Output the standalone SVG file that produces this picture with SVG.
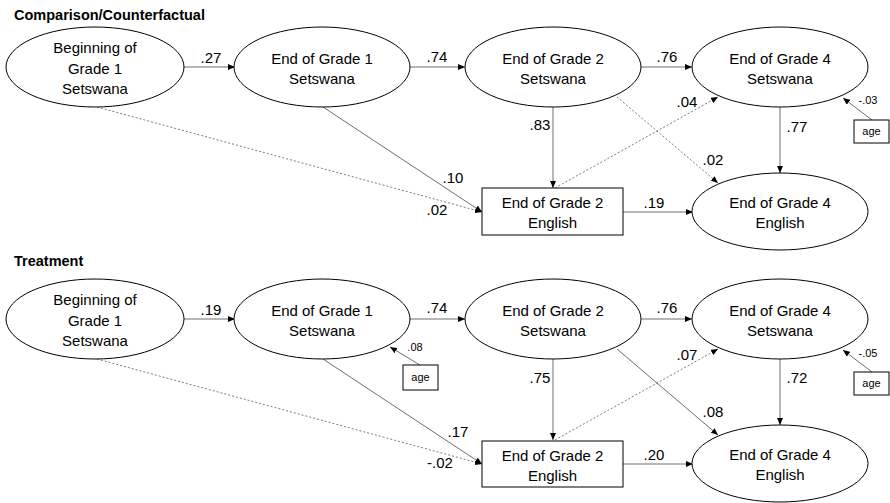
<svg xmlns="http://www.w3.org/2000/svg" width="890" height="503" viewBox="0 0 890 503">
<defs>
<marker id="ah" markerWidth="7" markerHeight="6" refX="7" refY="3" orient="auto" markerUnits="userSpaceOnUse">
<path d="M0,0 L7,3 L0,6 Z" fill="#000"/>
</marker>
<style>
.n{fill:#fff;stroke:#000;stroke-width:1}
.t{font-family:"Liberation Sans",Arial,sans-serif;font-size:15px;fill:#000;text-anchor:middle}
.s{font-family:"Liberation Sans",Arial,sans-serif;font-size:11px;fill:#000;text-anchor:middle}
.h{font-family:"Liberation Sans",Arial,sans-serif;font-size:14.5px;font-weight:bold;fill:#000}
.c{stroke:#6e6e6e;stroke-width:1;fill:none;marker-end:url(#ah)}
.d{stroke:#7a7a7a;stroke-width:1;fill:none;stroke-dasharray:2,2;marker-end:url(#ah)}
</style>
</defs>
<rect width="890" height="503" fill="#fff"/>
<text class="h" x="14" y="20">Comparison/Counterfactual</text>
<text class="h" x="14" y="266">Treatment</text>

<g id="connectors">
<line class="c" x1="184" y1="67" x2="235" y2="67"/>
<line class="c" x1="410" y1="67" x2="465" y2="67"/>
<line class="c" x1="641" y1="67" x2="692" y2="67"/>
<line class="c" x1="780" y1="107" x2="780" y2="173"/>
<line class="c" x1="553" y1="107" x2="553" y2="188"/>
<line class="c" x1="623" y1="212" x2="693" y2="212"/>
<line class="c" x1="323" y1="107" x2="482" y2="212"/>
<line class="d" x1="97" y1="107" x2="482" y2="212"/>
<line class="d" x1="555" y1="188" x2="718" y2="97"/>
<line class="d" x1="617" y1="97" x2="718" y2="183"/>
<line class="c" x1="872" y1="120" x2="843" y2="98"/>

<line class="c" x1="184" y1="319" x2="235" y2="319"/>
<line class="c" x1="410" y1="319" x2="465" y2="319"/>
<line class="c" x1="641" y1="319" x2="692" y2="319"/>
<line class="c" x1="780" y1="359" x2="780" y2="425"/>
<line class="c" x1="553" y1="359" x2="553" y2="440"/>
<line class="c" x1="623" y1="464" x2="693" y2="464"/>
<line class="c" x1="323" y1="359" x2="482" y2="464"/>
<line class="d" x1="97" y1="359" x2="482" y2="464"/>
<line class="d" x1="555" y1="440" x2="718" y2="349"/>
<line class="c" x1="617" y1="349" x2="718" y2="435"/>
<line class="c" x1="420" y1="365" x2="390" y2="347"/>
<line class="c" x1="872" y1="372" x2="843" y2="350"/>

<text class="t" x="211" y="63">.27</text>
<text class="t" x="437" y="62">.74</text>
<text class="t" x="667" y="62">.76</text>
<text class="t" x="540" y="130">.83</text>
<text class="t" x="453" y="183">.10</text>
<text class="t" x="437" y="215">.02</text>
<text class="t" x="687" y="107">.04</text>
<text class="t" x="713" y="165">.02</text>
<text class="t" x="797" y="132">.77</text>
<text class="t" x="654" y="208">.19</text>
<text class="s" x="868" y="104">-.03</text>

<text class="t" x="211" y="315">.19</text>
<text class="t" x="437" y="313">.74</text>
<text class="t" x="667" y="313">.76</text>
<text class="s" x="415" y="351">.08</text>
<text class="t" x="540" y="383">.75</text>
<text class="t" x="458" y="437">.17</text>
<text class="t" x="440" y="468">-.02</text>
<text class="t" x="687" y="360">.07</text>
<text class="s" x="868" y="357">-.05</text>
<text class="t" x="797" y="383">.72</text>
<text class="t" x="713" y="417">.08</text>
<text class="t" x="654" y="460">.20</text>
</g>

<g id="c_b1">
<ellipse class="n" cx="95" cy="67" rx="89" ry="40"/>
<text class="t" x="95" y="53">Beginning of</text>
<text class="t" x="95" y="74">Grade 1</text>
<text class="t" x="95" y="94">Setswana</text>
</g>
<g id="c_e1">
<ellipse class="n" cx="322" cy="67" rx="88" ry="40"/>
<text class="t" x="322" y="64">End of Grade 1</text>
<text class="t" x="322" y="84">Setswana</text>
</g>
<g id="c_e2">
<ellipse class="n" cx="553" cy="67" rx="88" ry="40"/>
<text class="t" x="553" y="64">End of Grade 2</text>
<text class="t" x="553" y="84">Setswana</text>
</g>
<g id="c_e4">
<ellipse class="n" cx="780" cy="67" rx="88" ry="40"/>
<text class="t" x="780" y="64">End of Grade 4</text>
<text class="t" x="780" y="84">Setswana</text>
</g>
<g id="c_e2eng">
<rect class="n" x="482" y="188" width="141" height="47"/>
<text class="t" x="552.5" y="208">End of Grade 2</text>
<text class="t" x="552.5" y="228">English</text>
</g>
<g id="c_e4eng">
<ellipse class="n" cx="780" cy="211.5" rx="88" ry="38.5"/>
<text class="t" x="780" y="208">End of Grade 4</text>
<text class="t" x="780" y="228">English</text>
</g>
<g id="c_age">
<rect class="n" x="854" y="120" width="35" height="23"/>
<text class="s" x="871.5" y="135">age</text>
</g>

<g id="t_b1">
<ellipse class="n" cx="95" cy="319" rx="89" ry="40"/>
<text class="t" x="95" y="305">Beginning of</text>
<text class="t" x="95" y="326">Grade 1</text>
<text class="t" x="95" y="346">Setswana</text>
</g>
<g id="t_e1">
<ellipse class="n" cx="322" cy="319" rx="88" ry="40"/>
<text class="t" x="322" y="316">End of Grade 1</text>
<text class="t" x="322" y="336">Setswana</text>
</g>
<g id="t_e2">
<ellipse class="n" cx="553" cy="319" rx="88" ry="40"/>
<text class="t" x="553" y="316">End of Grade 2</text>
<text class="t" x="553" y="336">Setswana</text>
</g>
<g id="t_e4">
<ellipse class="n" cx="780" cy="319" rx="88" ry="40"/>
<text class="t" x="780" y="316">End of Grade 4</text>
<text class="t" x="780" y="336">Setswana</text>
</g>
<g id="t_e2eng">
<rect class="n" x="482" y="441" width="141" height="46"/>
<text class="t" x="552.5" y="461">End of Grade 2</text>
<text class="t" x="552.5" y="481">English</text>
</g>
<g id="t_e4eng">
<ellipse class="n" cx="780" cy="463.5" rx="88" ry="38.5"/>
<text class="t" x="780" y="460">End of Grade 4</text>
<text class="t" x="780" y="480">English</text>
</g>
<g id="t_age1">
<rect class="n" x="403" y="365" width="35" height="25"/>
<text class="s" x="420.5" y="381">age</text>
</g>
<g id="t_age4">
<rect class="n" x="854" y="372" width="35" height="23"/>
<text class="s" x="871.5" y="387">age</text>
</g>
</svg>
